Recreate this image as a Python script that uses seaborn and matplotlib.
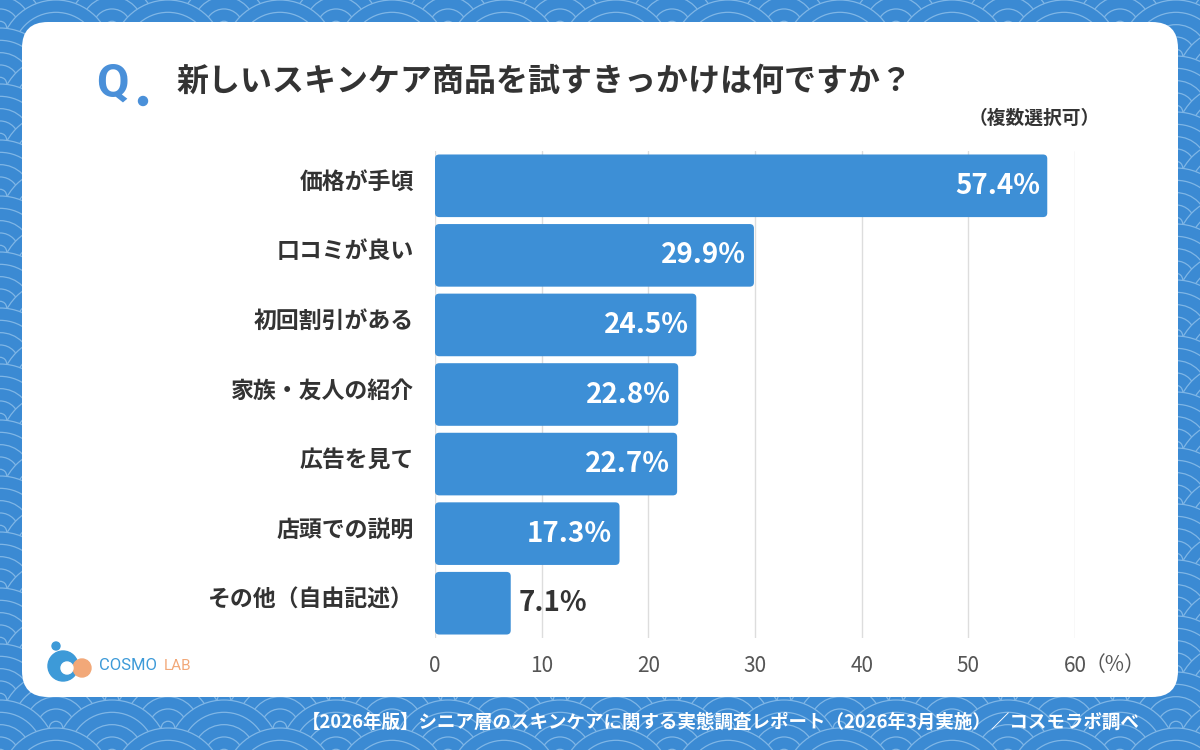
import matplotlib
matplotlib.use("Agg")
import matplotlib.pyplot as plt
import matplotlib.transforms as mtransforms
import seaborn as sns
import pandas as pd
from matplotlib.patches import FancyBboxPatch, Circle

# データ
categories = ['価格が手頃', '口コミが良い', '初回割引がある', '家族・友人の紹介',
              '広告を見て', '店頭での説明', 'その他（自由記述）']
values = [57.4, 29.9, 24.5, 22.8, 22.7, 17.3, 7.1]
xticks = [0, 10, 20, 30, 40, 50, 60]

title = '新しいスキンケア商品を試すきっかけは何ですか？'
note = '（複数選択可）'
footer = '【2026年版】シニア層のスキンケアに関する実態調査レポート（2026年3月実施）／コスモラボ調べ'

df = pd.DataFrame({'item': categories, 'pct': values})

sns.set_theme(style='white')
plt.rcParams['font.family'] = ['Noto Sans CJK JP', 'DejaVu Sans']

BLUE = '#3d8fd6'
BG = '#3b8ad3'
DARK = '#333333'

fig = plt.figure(figsize=(12, 7.5), dpi=100)

# 背景（青海波）
bg = fig.add_axes([0, 0, 1, 1], zorder=0)
bg.set_xlim(0, 1200)
bg.set_ylim(750, 0)
bg.axis('off')
bg.add_patch(plt.Rectangle((0, 0), 1200, 750, color=BG, zorder=0))
R = 56
row = 0
y = -R
while y < 750 + R:
    off = 0 if row % 2 == 0 else R
    x = -R + off
    while x < 1200 + 2 * R:
        for r in [R, R * 0.78, R * 0.56, R * 0.34, R * 0.12]:
            bg.add_patch(Circle((x, y), r, facecolor=BG, edgecolor='#7fb6e6',
                                lw=0.9, zorder=1))
        x += 2 * R
    y += R * 0.5
    row += 1

# カード
bg.add_patch(FancyBboxPatch((22, 22), 1156, 675, boxstyle='round,pad=0,rounding_size=26',
                            facecolor='white', edgecolor='none', zorder=5))

# タイトル
bg.text(96, 97, 'Q', fontsize=34, fontweight='bold', color='#4a90d9',
        family=['Roboto', 'DejaVu Sans'], va='baseline', zorder=6)
bg.add_patch(Circle((143, 101), 4.5, color='#4a90d9', zorder=6))
bg.text(176, 82, title, fontsize=23, fontweight='bold', color=DARK, va='center', zorder=6)
bg.text(1100, 118, note, fontsize=13.5, fontweight='bold', color=DARK,
        ha='right', va='center', zorder=6)

# フッター
bg.text(1140, 722, footer, fontsize=13.3, fontweight='bold', color='white',
        ha='right', va='center', zorder=6)

# ロゴ
bg.add_patch(Circle((63, 666), 15, color='#3d9ad8', zorder=6))
bg.add_patch(Circle((67, 668), 6, color='white', zorder=7))
bg.add_patch(Circle((56, 646), 4, color='#3d9ad8', zorder=6))
bg.add_patch(Circle((82, 668), 9, color='#f2a878', zorder=6))
bg.text(99, 666, 'COSMO', fontsize=12, color='#3d9ad8', va='center',
        family=['Roboto', 'DejaVu Sans'], zorder=6)
bg.text(164, 666, 'LAB', fontsize=11, color='#f2a878', va='center',
        family=['Roboto', 'DejaVu Sans'], zorder=6)

# グラフ本体
ax = fig.add_axes([435 / 1200, 1 - 638 / 750, 640 / 1200, 487 / 750], zorder=10)
ax.patch.set_alpha(0)
sns.barplot(data=df, y='item', x='pct', color=BLUE, width=0.9, ax=ax,
            saturation=1, zorder=3)

# 角丸に置き換え
for p in list(ax.patches):
    bx, by, bw, bh = p.get_x(), p.get_y(), p.get_width(), p.get_height()
    p.remove()
    ax.add_patch(FancyBboxPatch((bx, by), bw, bh,
                                boxstyle='round,pad=0,rounding_size=0.4',
                                mutation_aspect=0.15, facecolor=BLUE,
                                edgecolor='none', zorder=3))

ax.set_xlim(0, 60)
ax.set_ylim(len(categories) - 0.5, -0.5)
ax.set_xticks(xticks)
ax.set_xticklabels([str(t) for t in xticks])
ax.set_xlabel('')
ax.set_ylabel('')
for s in ax.spines.values():
    s.set_visible(False)
ax.grid(axis='x', color='#dddddd', lw=1, zorder=0)
ax.grid(axis='y', visible=False)
ax.tick_params(axis='x', length=0, pad=12, labelsize=15, labelcolor='#555555')
ax.tick_params(axis='y', length=0, pad=15, labelsize=16.5, labelcolor=DARK)
shift = mtransforms.ScaledTranslation(0, 6 / 100, fig.dpi_scale_trans)
for lbl in ax.get_yticklabels():
    lbl.set_fontweight('bold')
    lbl.set_transform(lbl.get_transform() + shift)

for i, v in enumerate(values):
    if v >= 10:
        ax.text(v - 0.7, i, f'{v}%', ha='right', va='center', color='white',
                fontsize=20, fontweight='bold', zorder=5)
    else:
        ax.text(v + 0.7, i, f'{v}%', ha='left', va='center', color=DARK,
                fontsize=20, fontweight='bold', zorder=5)

ax.text(60.9, -0.055, '（%）', transform=ax.get_xaxis_transform(), ha='left',
        va='center', fontsize=15, color='#555555')

fig.savefig('out.png', dpi=100)
